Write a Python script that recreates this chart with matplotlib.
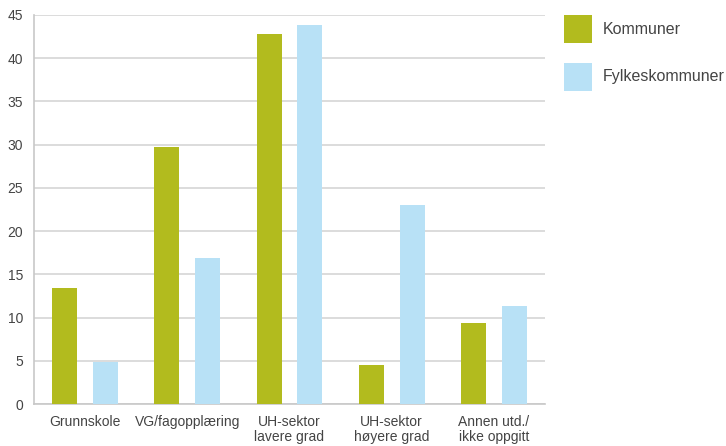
import matplotlib
matplotlib.use("Agg")
import matplotlib.pyplot as plt
import numpy as np

categories = ["Grunnskole", "VG/fagopplæring", "UH-sektor\nlavere grad", "UH-sektor\nhøyere grad", "Annen utd./\nikke oppgitt"]
kommuner = [13.4, 29.7, 42.8, 4.5, 9.4]
fylkeskommuner = [4.9, 16.9, 43.8, 23.0, 11.3]
series_names = ["Kommuner", "Fylkeskommuner"]
yticks = [0, 5, 10, 15, 20, 25, 30, 35, 40, 45]

plt.rcParams['font.family'] = ['Liberation Sans', 'DejaVu Sans']

fig = plt.figure(figsize=(7.26, 4.46), dpi=100)
ax = fig.add_axes([34/726, 42/446, (545-34)/726, (404-15)/446])

x = np.arange(len(categories))
w = 0.245
off = 0.2
green = "#B2BB1E"
blue = "#B8E1F6"
ax.bar(x - off, kommuner, width=w, color=green, label=series_names[0], zorder=3)
ax.bar(x + off, fylkeskommuner, width=w, color=blue, label=series_names[1], zorder=3)

ax.set_xlim(-0.5, len(categories) - 0.5)
ax.set_ylim(0, 45)
ax.set_yticks(yticks)
ax.set_xticks(x)
ax.set_xticklabels(categories, fontsize=10, color="#444444", linespacing=1.05)
ax.tick_params(axis='y', labelsize=10, labelcolor="#444444", length=0, pad=8)
ax.tick_params(axis='x', length=0, pad=8)
ax.grid(axis='y', color="#D6D6D6", linewidth=1.2, zorder=0)
for s in ["top", "right"]:
    ax.spines[s].set_visible(False)
ax.spines["left"].set_color("#C8C8C8")
ax.spines["bottom"].set_color("#C8C8C8")
ax.spines["left"].set_linewidth(1.2)
ax.spines["bottom"].set_linewidth(1.2)

leg = fig.legend(loc="upper left", bbox_to_anchor=(558/726, 1 - 9/446), frameon=False,
                 fontsize=11.5, handlelength=1.75, handleheight=2.32, labelspacing=1.2,
                 handletextpad=0.65, borderaxespad=0)
for t in leg.get_texts():
    t.set_color("#444444")

fig.savefig("out.png", dpi=100)
